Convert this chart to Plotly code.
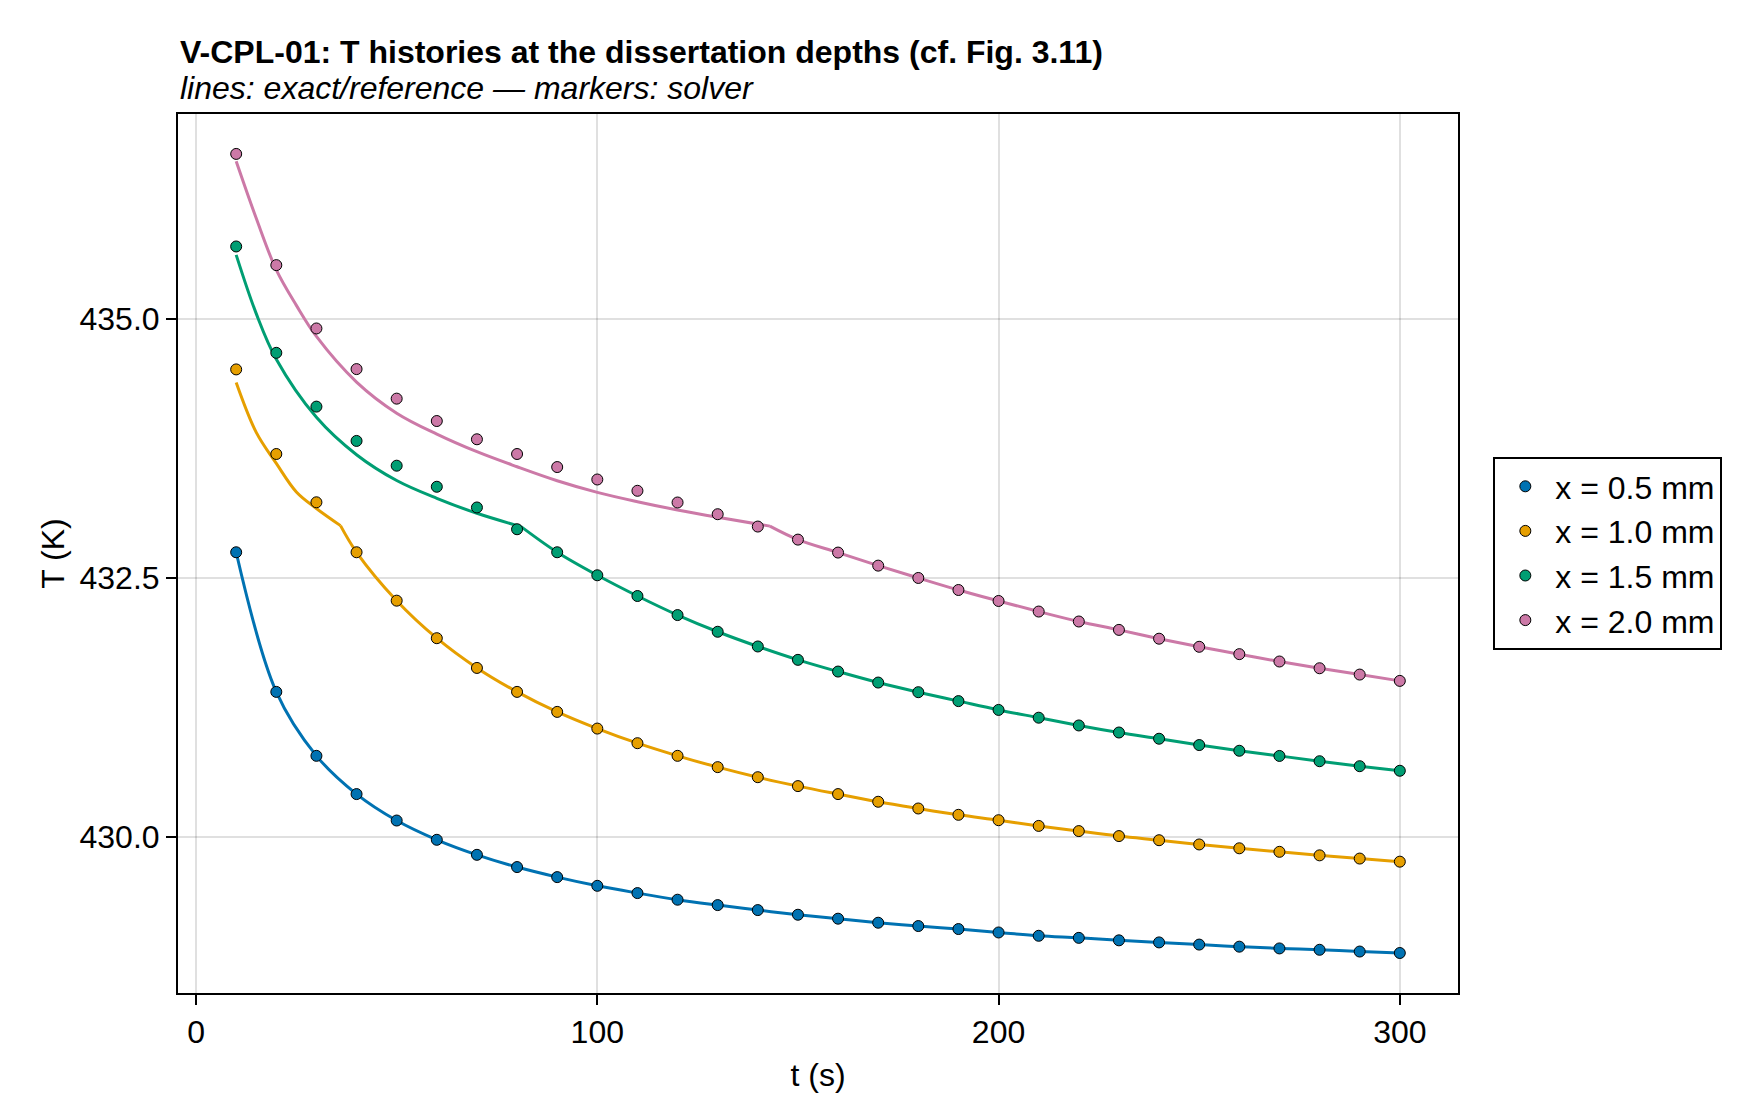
import plotly.graph_objects as go

# ---------------- data ----------------
t_solver = [10, 20, 30, 40, 50, 60, 70, 80, 90, 100, 110, 120, 130, 140, 150,
            160, 170, 180, 190, 200, 210, 220, 230, 240, 250, 260, 270, 280, 290, 300]

T_x05 = [432.748, 431.401, 430.784, 430.415, 430.160, 429.974, 429.829, 429.711, 429.614, 429.530,
         429.460, 429.396, 429.344, 429.296, 429.251, 429.213, 429.174, 429.142, 429.113, 429.080,
         429.048, 429.028, 429.004, 428.984, 428.963, 428.943, 428.926, 428.913, 428.896, 428.882]
T_x10 = [434.512, 433.696, 433.230, 432.748, 432.281, 431.919, 431.632, 431.401, 431.208, 431.047,
         430.906, 430.784, 430.675, 430.578, 430.492, 430.415, 430.341, 430.276, 430.215, 430.163,
         430.108, 430.058, 430.010, 429.970, 429.929, 429.892, 429.858, 429.824, 429.793, 429.763]
T_x15 = [435.698, 434.672, 434.153, 433.822, 433.583, 433.380, 433.180, 432.970, 432.748, 432.526,
         432.326, 432.142, 431.981, 431.839, 431.710, 431.597, 431.491, 431.398, 431.312, 431.227,
         431.152, 431.077, 431.009, 430.949, 430.888, 430.833, 430.783, 430.732, 430.684, 430.640]
T_x20 = [436.591, 435.518, 434.907, 434.515, 434.230, 434.014, 433.838, 433.696, 433.570, 433.450,
         433.341, 433.228, 433.115, 432.996, 432.870, 432.745, 432.619, 432.500, 432.384, 432.278,
         432.176, 432.080, 431.999, 431.914, 431.836, 431.765, 431.694, 431.629, 431.568, 431.507]

# exact/reference curves: early branch (before the kink)
ref_t_x10_early = [10, 15, 20, 25, 30, 36]
ref_T_x10_early = [434.386, 433.905, 433.605, 433.330, 433.170, 433.005]
ref_t_x15_early = [10, 15, 20, 30, 40, 50, 60, 70, 81]
ref_T_x15_early = [435.617, 435.050, 434.610, 434.050, 433.689, 433.440, 433.268, 433.124, 432.995]
ref_t_x20_early = [10, 15, 20, 25, 30, 40, 50, 60, 70, 80, 90, 100, 110, 120, 130, 143]
ref_T_x20_early = [436.520, 435.970, 435.472, 435.130, 434.830, 434.390, 434.090, 433.888, 433.718,
                   433.573, 433.438, 433.326, 433.236, 433.156, 433.085, 433.000]

labels = ["x = 0.5 mm", "x = 1.0 mm", "x = 1.5 mm", "x = 2.0 mm"]
colors = ["#0072B2", "#E69F00", "#009E73", "#CC79A7"]

x_ticks = [0, 100, 200, 300]
y_ticks = [430.0, 432.5, 435.0]
y_tick_text = ["430.0", "432.5", "435.0"]

title = "V-CPL-01: T histories at the dissertation depths (cf. Fig. 3.11)"
subtitle = "lines: exact/reference — markers: solver"

FONT = "Liberation Sans"

# ---------------- figure ----------------
fig = go.Figure()

solver = [T_x05, T_x10, T_x15, T_x20]
early = [None,
         (ref_t_x10_early, ref_T_x10_early),
         (ref_t_x15_early, ref_T_x15_early),
         (ref_t_x20_early, ref_T_x20_early)]

# reference lines
for vals, e, c in zip(solver, early, colors):
    if e is None:
        lt, lT = list(t_solver), list(vals)
        fig.add_trace(go.Scatter(x=lt, y=lT, mode="lines", line=dict(color=c, width=3, shape="spline"),
                                 showlegend=False, hoverinfo="skip"))
    else:
        et, eT = e
        fig.add_trace(go.Scatter(x=et, y=eT, mode="lines", line=dict(color=c, width=3, shape="spline"),
                                 showlegend=False, hoverinfo="skip"))
        kt = et[-1]
        post_t = [kt] + [tt for tt in t_solver if tt > kt]
        post_T = [eT[-1]] + [v for tt, v in zip(t_solver, vals) if tt > kt]
        fig.add_trace(go.Scatter(x=post_t, y=post_T, mode="lines", line=dict(color=c, width=3, shape="spline"),
                                 showlegend=False, hoverinfo="skip"))

# solver markers
for vals, lab, c in zip(solver, labels, colors):
    fig.add_trace(go.Scatter(x=t_solver, y=vals, mode="markers", name=lab,
                             marker=dict(color=c, size=11, line=dict(color="black", width=1))))

axis_common = dict(showline=True, mirror=True, linecolor="black", linewidth=2,
                   ticks="outside", ticklen=10, tickwidth=2, tickcolor="black",
                   showgrid=True, gridcolor="rgba(0,0,0,0.12)", gridwidth=2,
                   zeroline=False, tickfont=dict(family=FONT, size=32, color="black"))

fig.update_xaxes(range=[-4.5, 314.5], tickvals=x_ticks, ticktext=[str(v) for v in x_ticks],
                 title=dict(text="t (s)", font=dict(family=FONT, size=32, color="black"), standoff=14),
                 **axis_common)
fig.update_yaxes(range=[428.496, 436.976], tickvals=y_ticks, ticktext=y_tick_text,
                 title=dict(text="T (K)", font=dict(family=FONT, size=32, color="black"), standoff=5),
                 **axis_common)

fig.update_layout(
    width=1760, height=1120,
    margin=dict(l=178, r=302, t=114, b=127),
    paper_bgcolor="white", plot_bgcolor="white",
    font=dict(family=FONT, size=32, color="black"),
    legend=dict(x=1.0276, y=0.5, xanchor="left", yanchor="middle",
                bordercolor="black", borderwidth=2, bgcolor="white",
                font=dict(family=FONT, size=32, color="black"), itemwidth=50),
    annotations=[
        dict(text=title, xref="paper", yref="paper", x=0, y=(993.3 - 52) / 879.3,
             xanchor="left", yanchor="middle", showarrow=False,
             font=dict(family=FONT, size=32, color="black", weight="bold")),
        dict(text=subtitle, xref="paper", yref="paper", x=0, y=(993.3 - 88) / 879.3,
             xanchor="left", yanchor="middle", showarrow=False,
             font=dict(family=FONT, size=32, color="black", style="italic")),
    ],
)

fig.write_html("out.html")
